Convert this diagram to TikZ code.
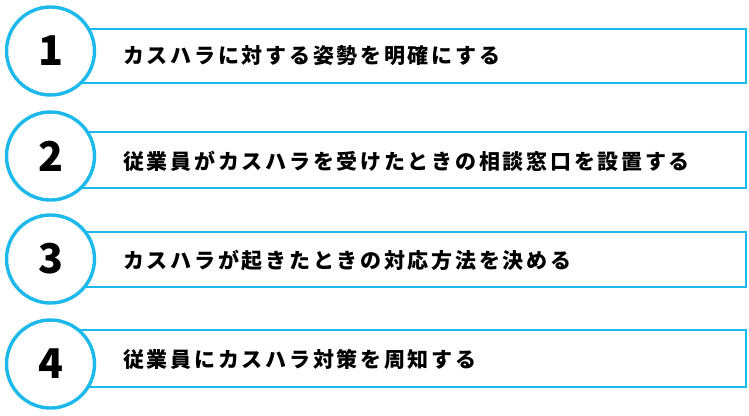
\documentclass[tikz,border=0pt]{standalone}
\usepackage{fontspec}
\newfontfamily\cjk[LetterSpace=13]{Noto Sans CJK JP}
\newfontfamily\cjknum{Noto Sans CJK JP}
\definecolor{accent}{RGB}{30,185,235}
\begin{document}
\begin{tikzpicture}[x=1pt,y=-1pt,
  bar/.style={draw=accent, line width=2.6pt, fill=white, inner sep=0pt, minimum width=686pt},
  badge/.style={circle, draw=accent, line width=3.4pt, fill=white, minimum size=88pt, inner sep=0pt,
    font=\cjknum\fontsize{41}{41}\selectfont\bfseries},
  label/.style={anchor=west, inner sep=0pt, font=\cjk\fontsize{21}{21}\selectfont\bfseries}]
\useasboundingbox (0,0) rectangle (749,415);
% row 1
\node[bar, minimum height=54pt] (r1) at (403,56) {};
\node[badge] (c1) at (50.5,51) {1};
\node[label] (t1) at (123,56) {カスハラに対する姿勢を明確にする};
% row 2
\node[bar, minimum height=56pt] (r2) at (403,160) {};
\node[badge] (c2) at (50.5,156) {2};
\node[label] (t2) at (123,161) {従業員がカスハラを受けたときの相談窓口を設置する};
% row 3
\node[bar, minimum height=55pt] (r3) at (403,259.5) {};
\node[badge] (c3) at (50.5,259) {3};
\node[label] (t3) at (123,260) {カスハラが起きたときの対応方法を決める};
% row 4
\node[bar, minimum height=57pt] (r4) at (403,358.5) {};
\node[badge] (c4) at (50.5,364) {4};
\node[label] (t4) at (123,359) {従業員にカスハラ対策を周知する};
\end{tikzpicture}
\end{document}
